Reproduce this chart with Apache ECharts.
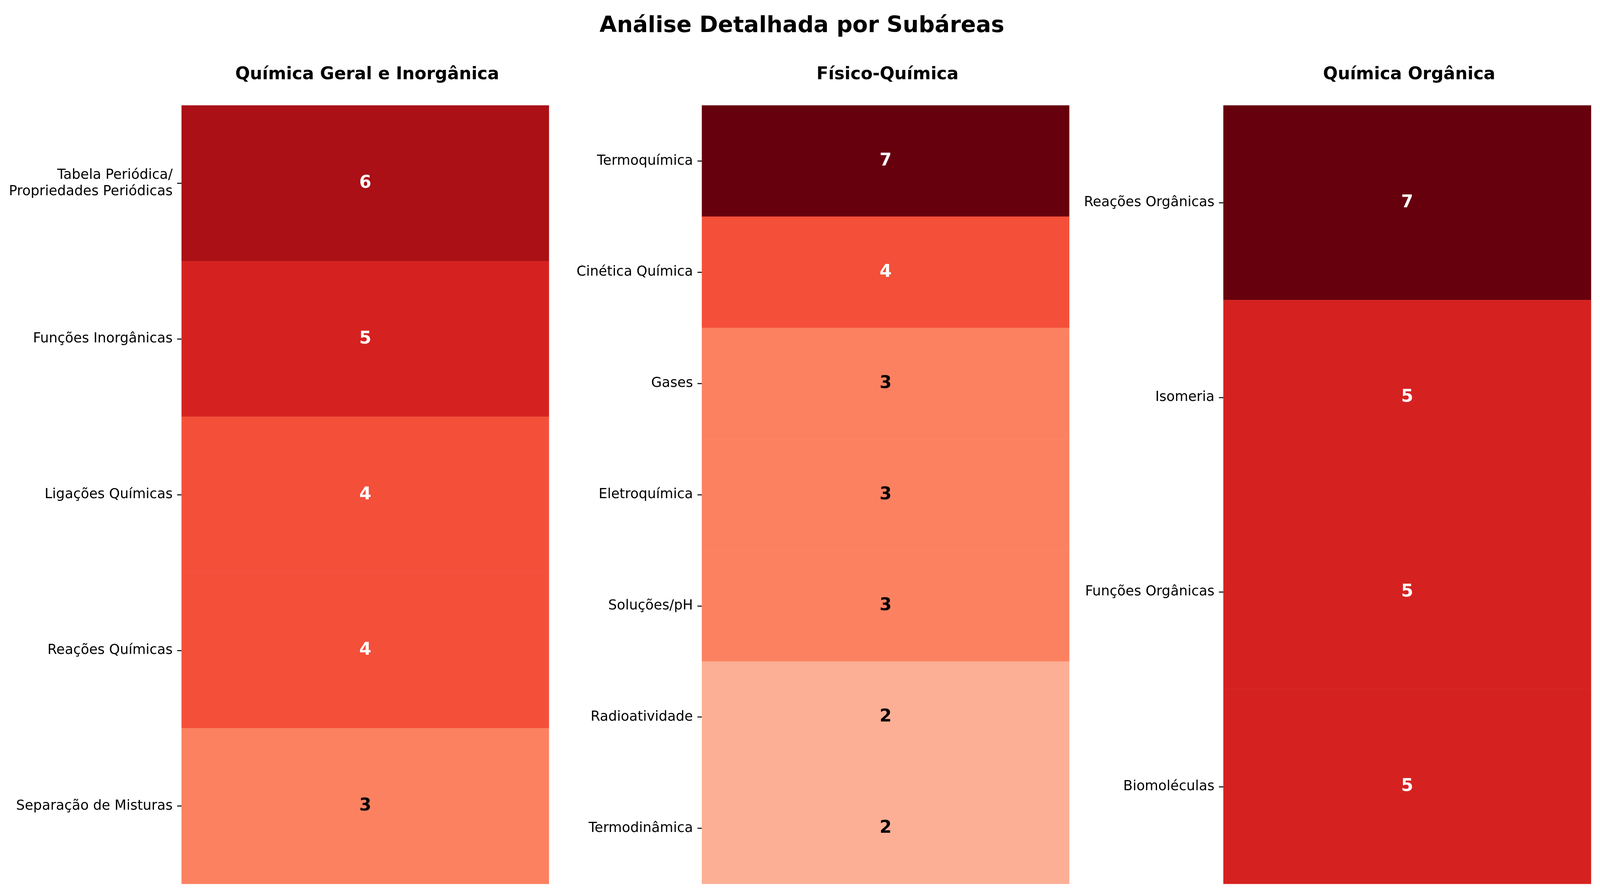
<!DOCTYPE html>
<html>
<head>
<meta charset="utf-8">
<script src="https://cdn.jsdelivr.net/npm/echarts@6/dist/echarts.min.js"></script>
<style>
html,body{margin:0;padding:0;background:#fff;overflow:hidden;}
#chart{width:100vw;height:100vh;}
</style>
</head>
<body>
<div id="chart"></div>
<script>
const mainTitle = 'Análise Detalhada por Subáreas';
const panelTitles = ['Química Geral e Inorgânica', 'Físico-Química', 'Química Orgânica'];
const cats1 = ['Tabela Periódica/\nPropriedades Periódicas', 'Funções Inorgânicas', 'Ligações Químicas', 'Reações Químicas', 'Separação de Misturas'];
const vals1 = [6, 5, 4, 4, 3];
const cats2 = ['Termoquímica', 'Cinética Química', 'Gases', 'Eletroquímica', 'Soluções/pH', 'Radioatividade', 'Termodinâmica'];
const vals2 = [7, 4, 3, 3, 3, 2, 2];
const cats3 = ['Reações Orgânicas', 'Isomeria', 'Funções Orgânicas', 'Biomoléculas'];
const vals3 = [7, 5, 5, 5];
const redsScale = ['#fff5f0','#fee0d2','#fcbba1','#fc9272','#fb6a4a','#ef3b2c','#cb181d','#a50f15','#67000d'];

const FONT = 'DejaVu Sans';
const el = document.getElementById('chart');
const W = el.clientWidth || window.innerWidth;
const H = el.clientHeight || window.innerHeight;
const sx = W / 5366;   // horizontal layout scale
const sy = H / 2295;   // vertical layout scale
const sf = Math.min(sx, sy); // font scale

const panels = [
  {cats: cats1, vals: vals1, left: 609, width: 1232},
  {cats: cats2, vals: vals2, left: 2354, width: 1232},
  {cats: cats3, vals: vals3, left: 4103, width: 1233}
];
const TOP = 270, HEIGHT = 1994;

const chart = echarts.init(el, null, {renderer: 'canvas'});

const titles = [{
  text: mainTitle, left: 2683 * sx, top: 62 * sy - 37.5 * sf, textAlign: 'center',
  textStyle: {fontFamily: FONT, fontSize: 75 * sf, fontWeight: 'bold', color: '#000', lineHeight: 75 * sf}
}];
panels.forEach((p, i) => {
  titles.push({
    text: panelTitles[i], left: (p.left + p.width / 2) * sx, top: 186 * sy - 29 * sf, textAlign: 'center',
    textStyle: {fontFamily: FONT, fontSize: 58 * sf, fontWeight: 'bold', color: '#000', lineHeight: 58 * sf}
  });
});

const grids = [], xAxes = [], yAxes = [], series = [];
panels.forEach((p, i) => {
  grids.push({left: p.left * sx, top: TOP * sy, width: p.width * sx, height: HEIGHT * sy, containLabel: false});
  xAxes.push({type: 'category', gridIndex: i, data: [''], show: false});
  yAxes.push({
    type: 'category', gridIndex: i, data: p.cats, inverse: true,
    axisLine: {show: false},
    axisTick: {show: true, alignWithLabel: true, length: 15 * sf, lineStyle: {color: '#000', width: 3.3 * sf}},
    axisLabel: {fontFamily: FONT, fontSize: 46 * sf, color: '#000', margin: 30 * sf, lineHeight: 55 * sf, align: 'right'},
    splitLine: {show: false}, splitArea: {show: false}
  });
  series.push({
    type: 'heatmap', xAxisIndex: i, yAxisIndex: i,
    data: p.vals.map((v, j) => ({
      value: [0, j, v],
      label: {color: v >= 4 ? '#ffffff' : '#000000'}
    })),
    label: {show: true, fontFamily: FONT, fontSize: 58 * sf, fontWeight: 'bold',
      formatter: (d) => String(d.value[2])},
    itemStyle: {borderWidth: 0},
    emphasis: {disabled: true}
  });
});

chart.setOption({
  backgroundColor: '#ffffff',
  animation: false,
  title: titles,
  visualMap: {
    show: false, type: 'continuous', min: 0, max: 7, dimension: 2,
    seriesIndex: [0, 1, 2],
    inRange: {color: redsScale}
  },
  grid: grids,
  xAxis: xAxes,
  yAxis: yAxes,
  series: series
});
</script>
</body>
</html>
